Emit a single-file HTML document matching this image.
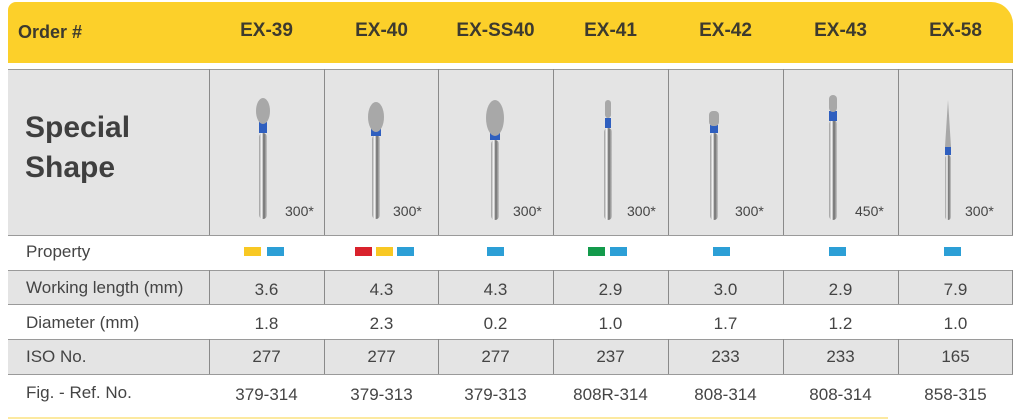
<!DOCTYPE html>
<html><head><style>
body{margin:0;width:1024px;height:420px;background:#fff;position:relative;overflow:hidden;font-family:"Liberation Sans",sans-serif;color:#3a3a3a}
.a{position:absolute}
.hdr{left:8px;top:2px;width:1005px;height:61px;background:#fcd02a;border-radius:8px 22px 0 0}
.ht{top:20px;font-size:19px;font-weight:bold;color:#3d3a2e;text-align:center;width:115px}
.g{background:#e4e4e4}
.row{left:8px;width:1005px}
.vl{width:1px;background:#8a8a8a}
.hl{left:8px;width:1005px;height:1px;background:#9a9a9a}
.lbl{left:26px;font-size:17px;color:#444}
.c{width:115px;text-align:center;font-size:17px;color:#444}
.sw{width:17px;height:9px;top:247px}
.num{font-size:14px;color:#444;top:203px}
</style></head><body>
<div class="a hdr"></div>
<div class="a" style="left:18px;top:22px;font-size:18px;font-weight:bold;color:#3d3a2e">Order #</div>
<div class="a ht" style="left:209px">EX-39</div>
<div class="a ht" style="left:324px">EX-40</div>
<div class="a ht" style="left:438px">EX-SS40</div>
<div class="a ht" style="left:553px">EX-41</div>
<div class="a ht" style="left:668px">EX-42</div>
<div class="a ht" style="left:783px">EX-43</div>
<div class="a ht" style="left:898px">EX-58</div>

<div class="a row g" style="top:69px;height:166px"></div>
<div class="a row g" style="top:270px;height:34px"></div>
<div class="a row g" style="top:339px;height:35px"></div>
<div class="a hl" style="top:69px"></div>
<div class="a hl" style="top:235px"></div>
<div class="a hl" style="top:270px"></div>
<div class="a hl" style="top:304px"></div>
<div class="a hl" style="top:339px"></div>
<div class="a hl" style="top:374px"></div>
<div class="a" style="left:8px;top:417px;width:880px;height:2px;background:#fce9a0"></div>

<div class="a" style="left:25px;top:108px;font-size:30px;font-weight:bold;color:#3f3f3f;line-height:40px">Special<br>Shape</div>

<svg class="a" style="left:0;top:0" width="1024" height="420">
<defs><linearGradient id="s" x1="0" x2="1"><stop offset="0" stop-color="#9a9a9a"/><stop offset=".35" stop-color="#fafafa"/><stop offset=".6" stop-color="#6a6a6a"/><stop offset="1" stop-color="#c8c8c8"/></linearGradient></defs>
<g fill="#8a8a8a">
<rect x="209" y="69" width="1" height="166"/><rect x="324" y="69" width="1" height="166"/><rect x="438" y="69" width="1" height="166"/><rect x="553" y="69" width="1" height="166"/><rect x="668" y="69" width="1" height="166"/><rect x="783" y="69" width="1" height="166"/><rect x="898" y="69" width="1" height="166"/>
<rect x="209" y="270" width="1" height="34"/><rect x="324" y="270" width="1" height="34"/><rect x="438" y="270" width="1" height="34"/><rect x="553" y="270" width="1" height="34"/><rect x="668" y="270" width="1" height="34"/><rect x="783" y="270" width="1" height="34"/><rect x="898" y="270" width="1" height="34"/><rect x="1012" y="270" width="1" height="34"/>
<rect x="209" y="339" width="1" height="35"/><rect x="324" y="339" width="1" height="35"/><rect x="438" y="339" width="1" height="35"/><rect x="553" y="339" width="1" height="35"/><rect x="668" y="339" width="1" height="35"/><rect x="783" y="339" width="1" height="35"/><rect x="898" y="339" width="1" height="35"/><rect x="1012" y="339" width="1" height="35"/>
<rect x="1012" y="69" width="1" height="166"/>
</g>
<!-- burs -->
<g>
<rect x="259" y="133" width="8" height="86" rx="4" fill="url(#s)"/><rect x="259" y="122" width="8" height="11" fill="#2f5fbf"/><ellipse cx="263" cy="111" rx="7" ry="13" fill="#a8a8a8"/>
<rect x="372" y="135" width="8" height="84" rx="4" fill="url(#s)"/><rect x="371" y="128" width="10" height="8" fill="#2f5fbf"/><ellipse cx="376" cy="117" rx="8" ry="15" fill="#a8a8a8"/>
<rect x="491" y="140" width="8" height="80" rx="4" fill="url(#s)"/><rect x="490" y="132" width="10" height="8" fill="#2f5fbf"/><ellipse cx="495" cy="118" rx="9" ry="18" fill="#a8a8a8"/>
<rect x="604" y="128" width="8" height="92" rx="4" fill="url(#s)"/><rect x="605" y="118" width="6" height="10" fill="#2f5fbf"/><rect x="605" y="100" width="6" height="18" rx="3" fill="#a8a8a8"/>
<rect x="710" y="133" width="8" height="87" rx="4" fill="url(#s)"/><rect x="710" y="125" width="8" height="8" fill="#2f5fbf"/><rect x="709" y="111" width="10" height="15" rx="4" fill="#a8a8a8"/>
<rect x="829" y="120" width="8" height="100" rx="4" fill="url(#s)"/><rect x="829" y="111" width="8" height="10" fill="#2f5fbf"/><rect x="829" y="95" width="8" height="17" rx="4" fill="#a8a8a8"/>
<rect x="945" y="155" width="6" height="65" rx="3" fill="url(#s)"/><rect x="945" y="147" width="6" height="8" fill="#2f5fbf"/><polygon points="945,147 951,147 948,100" fill="#a8a8a8"/>
</g>
</svg>
<div class="a num" style="left:285px">300*</div>
<div class="a num" style="left:393px">300*</div>
<div class="a num" style="left:513px">300*</div>
<div class="a num" style="left:627px">300*</div>
<div class="a num" style="left:735px">300*</div>
<div class="a num" style="left:855px">450*</div>
<div class="a num" style="left:965px">300*</div>

<div class="a lbl" style="top:242px">Property</div>
<div class="a sw" style="left:244px;background:#f8c823"></div><div class="a sw" style="left:267px;background:#2c9fd6"></div>
<div class="a sw" style="left:355px;background:#d9222c"></div><div class="a sw" style="left:376px;background:#f8c823"></div><div class="a sw" style="left:397px;background:#2c9fd6"></div>
<div class="a sw" style="left:487px;background:#2c9fd6"></div>
<div class="a sw" style="left:588px;background:#139a4b"></div><div class="a sw" style="left:610px;background:#2c9fd6"></div>
<div class="a sw" style="left:713px;background:#2c9fd6"></div>
<div class="a sw" style="left:829px;background:#2c9fd6"></div>
<div class="a sw" style="left:944px;background:#2c9fd6"></div>

<div class="a lbl" style="top:278px">Working length (mm)</div>
<div class="a lbl" style="top:313px">Diameter (mm)</div>
<div class="a lbl" style="top:347px">ISO No.</div>
<div class="a lbl" style="top:383px">Fig. - Ref. No.</div>

<div class="a c" style="left:209px;top:280px">3.6</div><div class="a c" style="left:324px;top:280px">4.3</div><div class="a c" style="left:438px;top:280px">4.3</div><div class="a c" style="left:553px;top:280px">2.9</div><div class="a c" style="left:668px;top:280px">3.0</div><div class="a c" style="left:783px;top:280px">2.9</div><div class="a c" style="left:898px;top:280px">7.9</div>
<div class="a c" style="left:209px;top:314px">1.8</div><div class="a c" style="left:324px;top:314px">2.3</div><div class="a c" style="left:438px;top:314px">0.2</div><div class="a c" style="left:553px;top:314px">1.0</div><div class="a c" style="left:668px;top:314px">1.7</div><div class="a c" style="left:783px;top:314px">1.2</div><div class="a c" style="left:898px;top:314px">1.0</div>
<div class="a c" style="left:209px;top:347px">277</div><div class="a c" style="left:324px;top:347px">277</div><div class="a c" style="left:438px;top:347px">277</div><div class="a c" style="left:553px;top:347px">237</div><div class="a c" style="left:668px;top:347px">233</div><div class="a c" style="left:783px;top:347px">233</div><div class="a c" style="left:898px;top:347px">165</div>
<div class="a c" style="left:209px;top:385px">379-314</div><div class="a c" style="left:324px;top:385px">379-313</div><div class="a c" style="left:438px;top:385px">379-313</div><div class="a c" style="left:553px;top:385px">808R-314</div><div class="a c" style="left:668px;top:385px">808-314</div><div class="a c" style="left:783px;top:385px">808-314</div><div class="a c" style="left:898px;top:385px">858-315</div>
</body></html>
